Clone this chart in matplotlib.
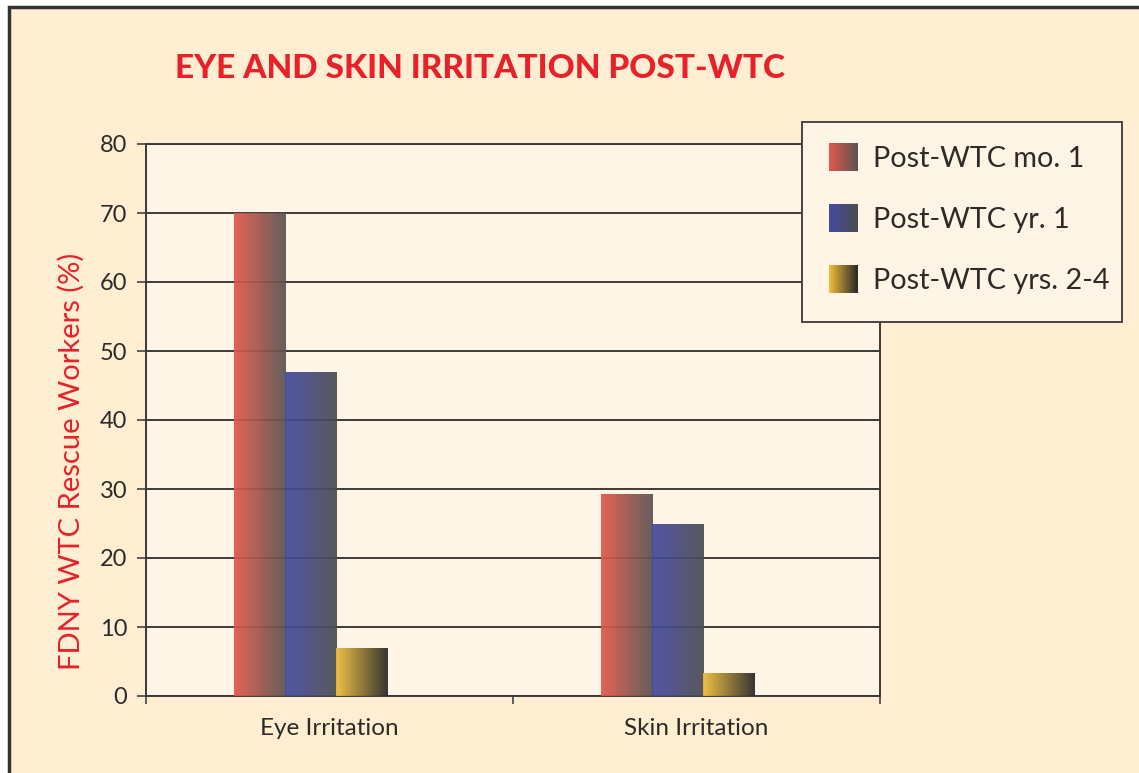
import numpy as np
import matplotlib
matplotlib.use("Agg")
import matplotlib.pyplot as plt
from matplotlib.patches import Rectangle, Patch
from matplotlib.legend_handler import HandlerBase

# ---------------- data ----------------
categories = ["Eye Irritation", "Skin Irritation"]
series_names = ["Post-WTC mo. 1", "Post-WTC yr. 1", "Post-WTC yrs. 2-4"]
mo1 = [70.0, 29.3]
yr1 = [47.0, 25.0]
yrs24 = [7.0, 3.3]
y_ticks = [0, 10, 20, 30, 40, 50, 60, 70, 80]
title = "EYE AND SKIN IRRITATION POST-WTC"
ylabel = "FDNY WTC Rescue Workers (%)"

# ---------------- style ----------------
W, H = 1139, 773
BG = "#FFEED2"
PLOT_BG = "#FFF5E6"
RED = "#E8202A"
TXT = "#2e2a28"
grad_cols = [
    ((226 / 255, 88 / 255, 74 / 255), (88 / 255, 84 / 255, 82 / 255)),
    ((68 / 255, 74 / 255, 160 / 255), (76 / 255, 76 / 255, 82 / 255)),
    ((238 / 255, 188 / 255, 58 / 255), (38 / 255, 38 / 255, 36 / 255)),
]
FONT = "Lato"
plt.rcParams["font.family"] = [FONT, "DejaVu Sans"]

fig = plt.figure(figsize=(W / 100, H / 100), dpi=100)
fig.patch.set_facecolor("white")
# outer panel with frame at left/top
fig.patches.append(Rectangle((9 / W, -0.05), 1.1, 1 - 7 / H + 0.05,
                             transform=fig.transFigure, facecolor=BG,
                             edgecolor="#333333", linewidth=2.5, zorder=-10))

ax = fig.add_axes([146 / W, 1 - 696 / H, (880 - 146) / W, (696 - 144) / H])
ax.set_facecolor(PLOT_BG)

x = np.arange(len(categories)) + 0.5
bw = 0.139
shift = -0.052
all_series = [mo1, yr1, yrs24]
grad = np.linspace(0, 1, 256).reshape(1, -1)
for j, vals in enumerate(all_series):
    xs = x + shift + (j - 1) * bw
    bars = ax.bar(xs, vals, width=bw, facecolor="none", edgecolor="none",
                  zorder=3)
    c0, c1 = np.array(grad_cols[j][0]), np.array(grad_cols[j][1])
    img = (1 - grad)[..., None] * c0 + grad[..., None] * c1
    for rect in bars:
        x0 = rect.get_x()
        w = rect.get_width()
        h = rect.get_height()
        im = ax.imshow(img, extent=(x0, x0 + w, 0, h), aspect="auto",
                       zorder=3, alpha=0.93, interpolation="bilinear")
        im.set_clip_path(rect)

ax.set_xlim(0, 2)
ax.set_ylim(0, 80)
ax.set_yticks(y_ticks)
ax.set_yticklabels([str(v) for v in y_ticks])
ax.yaxis.grid(True, color="#3d3a38", linewidth=1.4, zorder=1)
ax.set_axisbelow(True)

ax.set_xticks([0, 1, 2])
ax.set_xticklabels([])
ax.set_xticks(x, minor=True)
ax.set_xticklabels(categories, minor=True)
ax.tick_params(axis="x", which="major", direction="out", length=6,
               width=1.2, color="#444444")
ax.tick_params(axis="x", which="minor", length=0, pad=16,
               labelsize=17.5, labelcolor=TXT)
ax.tick_params(axis="y", direction="out", length=6.5, width=1.2,
               color="#444444", pad=7, labelsize=17, labelcolor=TXT)
for s in ax.spines.values():
    s.set_color("#3a3a3a")
    s.set_linewidth(1.4)

# title and y label
fig.text(175 / W, 1 - 68 / H, title, color=RED, fontsize=24,
         fontweight="black", ha="left", va="center")
fig.text(71 / W, 1 - 461 / H, ylabel, color=RED, fontsize=21,
         rotation=90, ha="center", va="center")


# legend with gradient swatches (swatch drawn in right part of handle box)
class GradHandler(HandlerBase):
    def __init__(self, c0, c1, n=40, lead=0.29):
        super().__init__()
        self.c0 = np.array(c0)
        self.c1 = np.array(c1)
        self.n = n
        self.lead = lead

    def create_artists(self, legend, orig_handle, xdescent, ydescent,
                       width, height, fontsize, trans):
        arts = []
        x0 = -xdescent + width * self.lead
        sw = width * (1 - self.lead)
        for i in range(self.n):
            f = i / (self.n - 1)
            col = self.c0 * (1 - f) + self.c1 * f
            r = Rectangle((x0 + sw * i / self.n, -ydescent),
                          sw / self.n * 1.08, height, facecolor=col,
                          edgecolor="none", transform=trans)
            arts.append(r)
        return arts


# legend box
fig.patches.append(Rectangle((802 / W, 1 - 322 / H), (1122 - 802) / W,
                             200 / H, transform=fig.transFigure,
                             facecolor=PLOT_BG, edgecolor="#4a4543",
                             linewidth=1.4, zorder=5))

proxies = [Patch(label=n) for n in series_names]
hmap = {p: GradHandler(*grad_cols[i]) for i, p in enumerate(proxies)}
leg = fig.legend(handles=proxies, labels=series_names, handler_map=hmap,
                 loc="upper left", bbox_to_anchor=(800 / W, 1 - 126 / H),
                 bbox_transform=fig.transFigure, borderaxespad=0,
                 frameon=False, fontsize=20.7,
                 handlelength=1.43, handleheight=1.13, handletextpad=0.52,
                 labelspacing=1.12, borderpad=0.6)
leg.set_zorder(6)
for t in leg.get_texts():
    t.set_color(TXT)

fig.savefig("out.png", dpi=100, facecolor=fig.get_facecolor())
